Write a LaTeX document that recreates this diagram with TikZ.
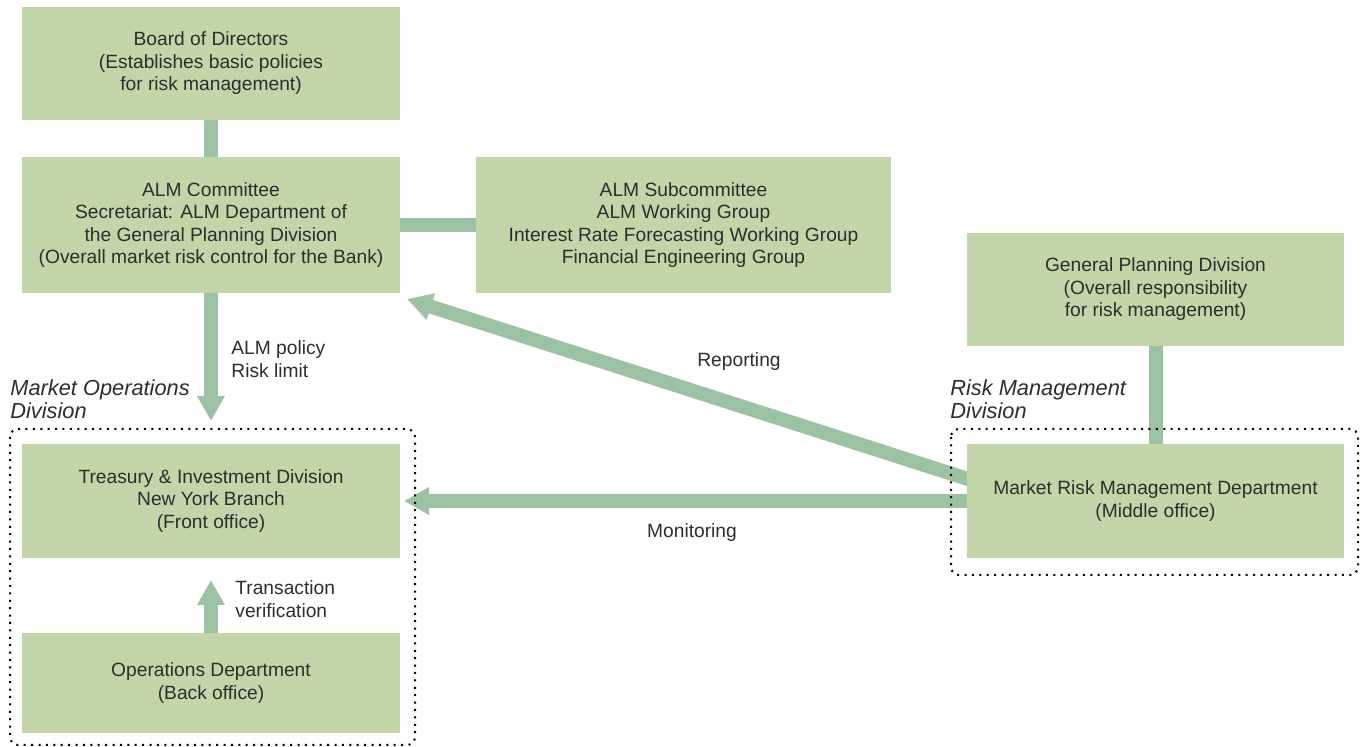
\documentclass[tikz,border=0pt]{standalone}
\usepackage{fontspec}
\setmainfont{Liberation Sans}
\usepackage{tikz}
\usetikzlibrary{arrows.meta,positioning,calc,backgrounds}

\definecolor{boxgreen}{RGB}{195,214,169}
\definecolor{flowgreen}{RGB}{156,193,163}
\definecolor{textgray}{RGB}{45,45,45}

\begin{document}
\begin{tikzpicture}[x=0.5pt, y=-0.5pt,
    orgbox/.style={rectangle, fill=boxgreen, text=textgray, align=center, inner sep=0pt,
        font=\fontsize{9.6}{11.25}\selectfont},
    wide/.style={minimum width=189pt},
    link/.style={draw=flowgreen, line width=7pt, line cap=butt},
    flow/.style={link, -{Triangle[width=13pt,length=12.5pt]}},
    note/.style={text=textgray, align=left, inner sep=0pt, font=\fontsize{9.6}{11.25}\selectfont},
    divlabel/.style={text=textgray, align=left, inner sep=0pt, anchor=west, font=\fontsize{10.9}{11.25}\selectfont\itshape},
    divframe/.style={draw=black, line width=1pt, dash pattern=on 1pt off 2.7pt, rounded corners=4pt}]
    \useasboundingbox (0,0) rectangle (1361,747);

    % Nodes
    \node (board) [orgbox, wide, minimum height=56.5pt] at (211,63.5) {Board of Directors\\(Establishes basic policies\\for risk management)};
    \node (alm) [orgbox, wide, minimum height=68pt] at (211,225) {ALM Committee\\Secretariat: ALM Department of\\the General Planning Division\\(Overall market risk control for the Bank)};
    \node (sub) [orgbox, minimum width=207.5pt, minimum height=68pt] at (683.5,225) {ALM Subcommittee\\ALM Working Group\\Interest Rate Forecasting Working Group\\Financial Engineering Group};
    \node (gpd) [orgbox, minimum width=188.5pt, minimum height=56.5pt] at (1155.5,289.5) {General Planning Division\\(Overall responsibility\\for risk management)};
    \node (mrm) [orgbox, minimum width=188.5pt, minimum height=57pt] at (1155.5,501) {Market Risk Management Department\\(Middle office)};
    \node (tid) [orgbox, wide, minimum height=57pt] at (211,501) {Treasury \& Investment Division\\New York Branch\\(Front office)};
    \node (ops) [orgbox, wide, minimum height=50pt] at (211,683) {Operations Department\\(Back office)};

    % Division frames
    \draw [divframe] (10,429) rectangle (415,745);
    \draw [divframe] (951,429) rectangle (1358,575);
    \node (mktdiv) [divlabel] at (10,399) {Market Operations\\Division};
    \node (riskdiv) [divlabel] at (950,399) {Risk Management\\Division};

    % Arrow ends
    \coordinate (almtip) at (211,421);
    \coordinate (reptip) at (407,299);
    \coordinate (montip) at (404,501);
    \coordinate (vertip) at (211,580);

    % Labels
    \node (policy) [note, anchor=west] at (231,359) {ALM policy\\Risk limit};
    \node (rep) [note] at (739,362) {Reporting};
    \node (mon) [note] at (692,533) {Monitoring};
    \node (ver) [note, anchor=west] at (235,599) {Transaction\\verification};

    % Connectors
    \begin{scope}[on background layer]
        \draw [link] (board) -- (alm);
        \draw [link] (alm) -- (sub);
        \draw [link] (gpd) -- (mrm);
        \draw [flow] (alm.south) -- (almtip);
        \draw [flow] ([xshift=10pt, yshift=8pt]mrm.west) -- (reptip);
        \draw [flow] (mrm.west) -- (montip);
        \draw [flow] (ops.north) -- (vertip);
    \end{scope}
\end{tikzpicture}
\end{document}
